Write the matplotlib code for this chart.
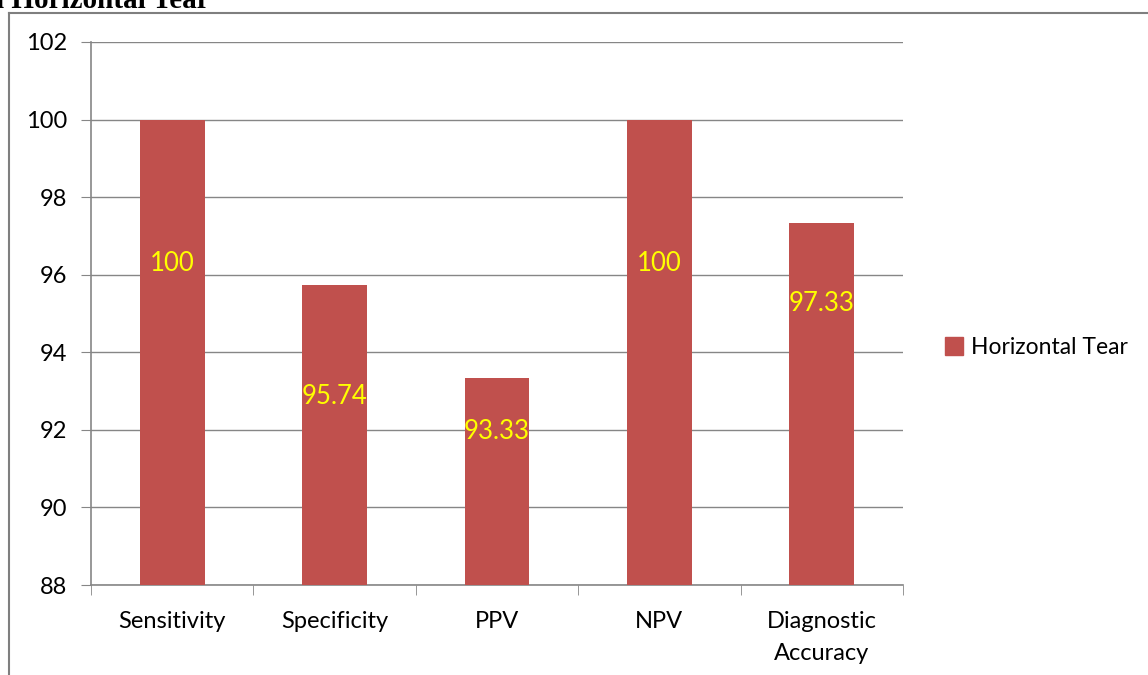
import matplotlib.pyplot as plt
from matplotlib.lines import Line2D
import numpy as np

# data
categories = ['Sensitivity', 'Specificity', 'PPV', 'NPV', 'Diagnostic\nAccuracy']
values = [100, 95.74, 93.33, 100, 97.33]
value_labels = ['100', '95.74', '93.33', '100', '97.33']
label_heights = [96.3, 92.85, 91.95, 96.3, 95.25]
series_name = 'Horizontal Tear'

plt.rcParams['font.family'] = ['Lato', 'DejaVu Sans']

fig = plt.figure(figsize=(11.48, 6.75), dpi=100)
ax = fig.add_axes([91 / 1148, 1 - 585 / 675, (903 - 91) / 1148, (585 - 42) / 675])

x = np.arange(len(categories))
bar_color = '#C0504D'
ax.bar(x, values, width=0.4, color=bar_color, zorder=3, label=series_name)

for xi, lab, h in zip(x, value_labels, label_heights):
    ax.text(xi, h, lab, color='#FFFF00', ha='center', va='center', fontsize=18.5, zorder=4)

ax.set_xlim(-0.5, len(categories) - 0.5)
ax.set_ylim(88, 102)
ax.set_yticks(np.arange(88, 103, 2))
ax.set_xticks(x)
ax.set_xticklabels(categories, fontsize=17, linespacing=1.6)
ax.set_xticks(np.arange(-0.5, len(categories), 1), minor=True)
ax.tick_params(axis='x', which='major', length=0, pad=19)
ax.tick_params(axis='x', which='minor', length=7, color='#868686', direction='out')
ax.tick_params(axis='y', length=7, color='#868686', labelsize=17, pad=10)

ax.grid(axis='y', color='#868686', linewidth=1, zorder=0)
for side in ['top', 'right']:
    ax.spines[side].set_visible(False)
for side in ['left', 'bottom']:
    ax.spines[side].set_color('#868686')
    ax.spines[side].set_linewidth(1.2)

handle = Line2D([], [], marker='s', color='none', markerfacecolor=bar_color,
                markeredgecolor=bar_color, markersize=13)
fig.legend([handle], [series_name], loc='center left', bbox_to_anchor=(923 / 1148, 1 - 348 / 675),
           frameon=False, fontsize=16.5, handlelength=0.9, handletextpad=0.3)

# outer border (cut off on the right and bottom)
fig.add_artist(Line2D([9 / 1148, 9 / 1148], [0, 1 - 13 / 675], color='#7F7F7F', lw=1.5))
fig.add_artist(Line2D([9 / 1148, 1], [1 - 13 / 675, 1 - 13 / 675], color='#7F7F7F', lw=1.5))

# title, clipped at the top of the image
fig.text(-4 / 1148, 1 - 1 / 675, 'l Horizontal Tear', family=['Liberation Serif', 'DejaVu Serif'],
         fontweight='bold', fontsize=21, va='center', ha='left')

fig.savefig('out.png', dpi=100)
